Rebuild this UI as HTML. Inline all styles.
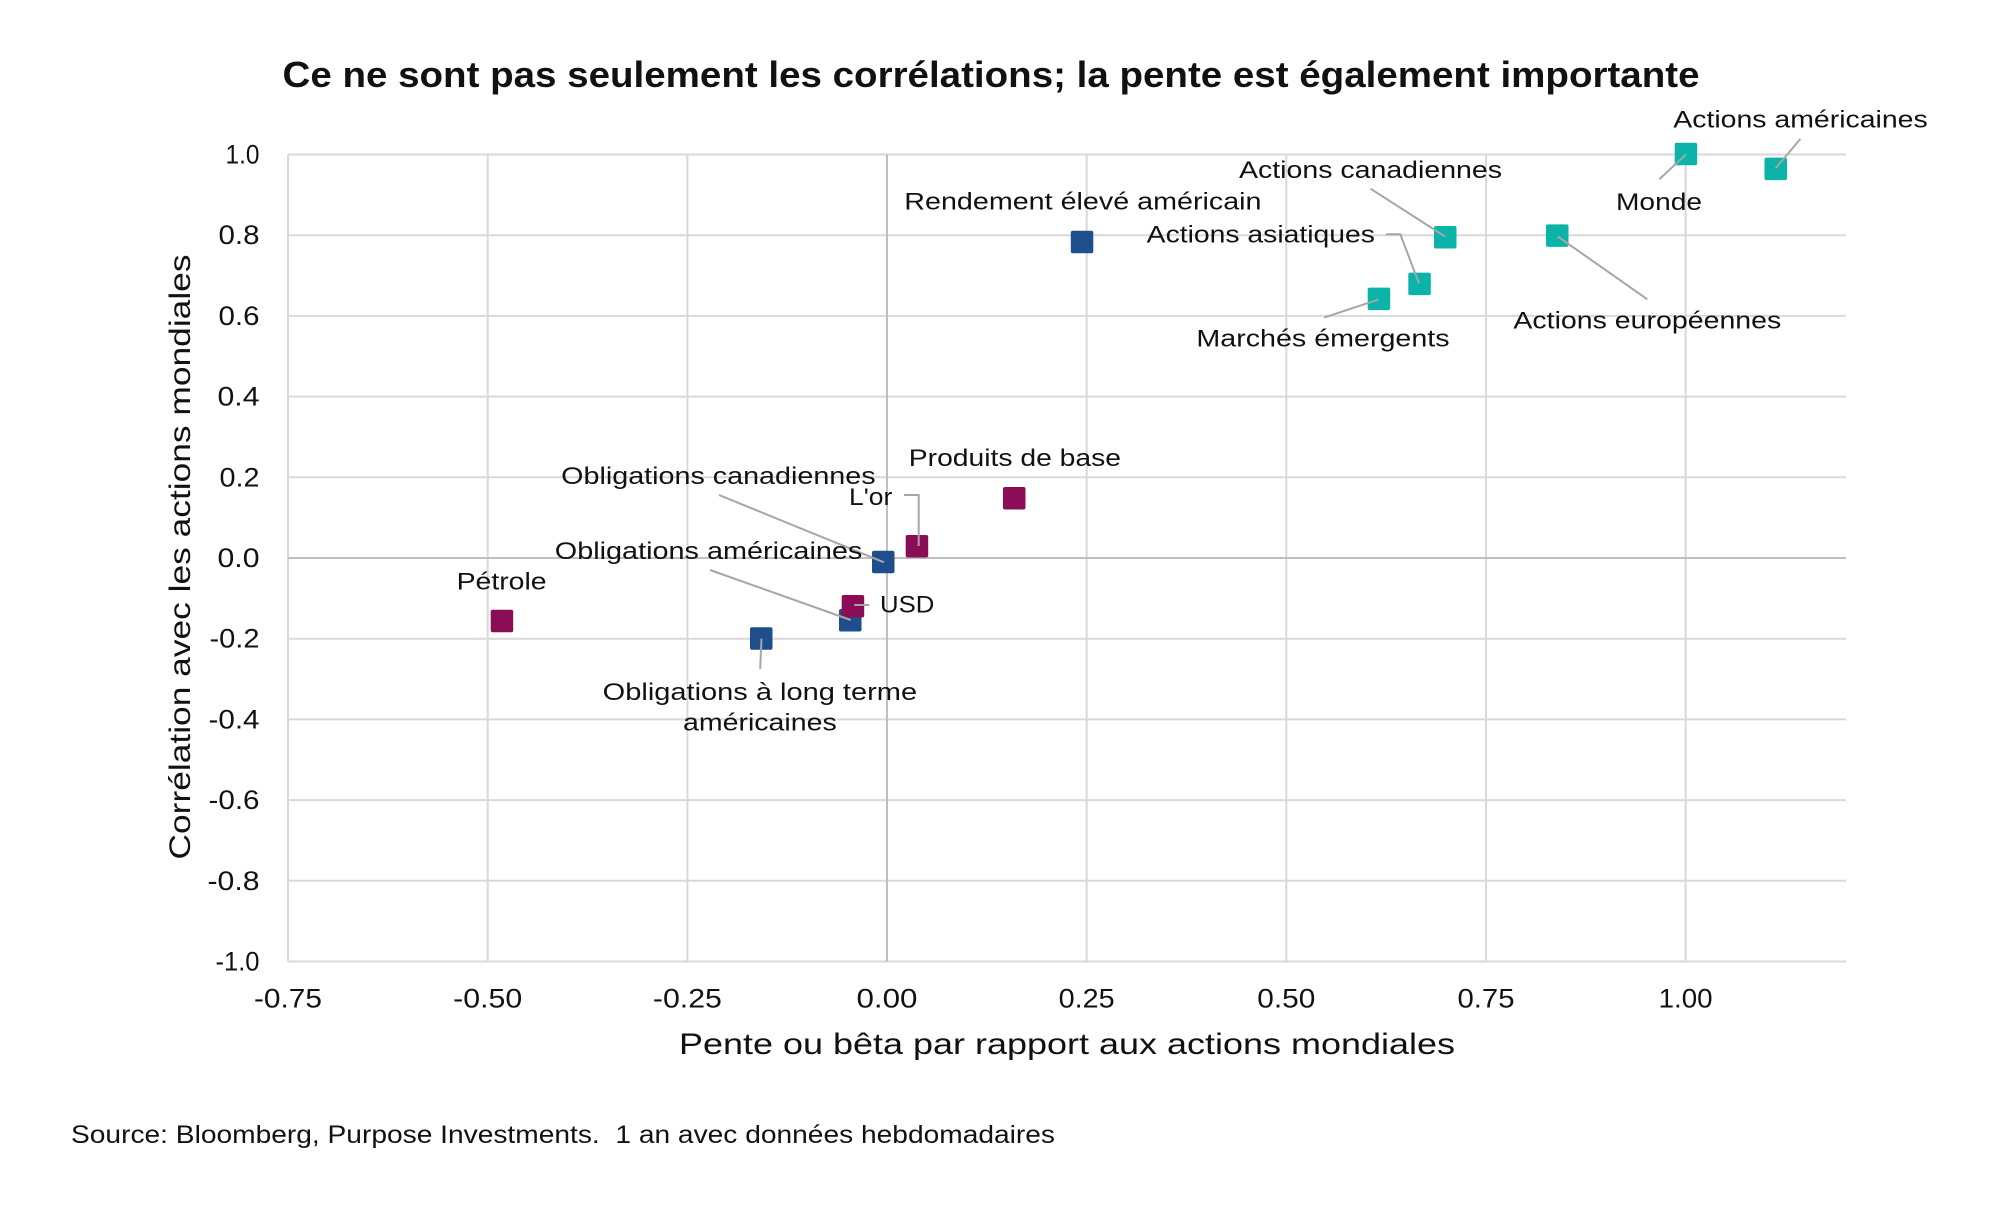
<!DOCTYPE html>
<html>
<head>
<meta charset="utf-8">
<style>
  html, body { margin: 0; padding: 0; background: #ffffff; }
  svg { display: block; }
  text { font-family: "Liberation Sans", "DejaVu Sans", sans-serif; fill: #111111; }
</style>
</head>
<body>
<svg width="2000" height="1207" viewBox="0 0 2000 1207" xmlns="http://www.w3.org/2000/svg">
  <rect x="0" y="0" width="2000" height="1207" fill="#ffffff"/>

  <!-- Title -->
  <text x="282.5" y="87" font-size="36" font-weight="bold" fill="#000" textLength="1417" lengthAdjust="spacingAndGlyphs">Ce ne sont pas seulement les corrélations; la pente est également importante</text>

  <!-- Horizontal gridlines -->
  <g stroke="#d9d9d9" stroke-width="2">
    <line x1="288" y1="154.5" x2="1846" y2="154.5"/>
    <line x1="288" y1="235.2" x2="1846" y2="235.2"/>
    <line x1="288" y1="315.9" x2="1846" y2="315.9"/>
    <line x1="288" y1="396.6" x2="1846" y2="396.6"/>
    <line x1="288" y1="477.3" x2="1846" y2="477.3"/>
    <line x1="288" y1="638.7" x2="1846" y2="638.7"/>
    <line x1="288" y1="719.4" x2="1846" y2="719.4"/>
    <line x1="288" y1="800.1" x2="1846" y2="800.1"/>
    <line x1="288" y1="880.8" x2="1846" y2="880.8"/>
    <line x1="288" y1="961.5" x2="1846" y2="961.5"/>
  </g>
  <!-- Vertical gridlines -->
  <g stroke="#d9d9d9" stroke-width="2">
    <line x1="288" y1="154.5" x2="288" y2="961.5"/>
    <line x1="487.7" y1="154.5" x2="487.7" y2="961.5"/>
    <line x1="687.4" y1="154.5" x2="687.4" y2="961.5"/>
    <line x1="1086.7" y1="154.5" x2="1086.7" y2="961.5"/>
    <line x1="1286.3" y1="154.5" x2="1286.3" y2="961.5"/>
    <line x1="1486" y1="154.5" x2="1486" y2="961.5"/>
    <line x1="1685.6" y1="154.5" x2="1685.6" y2="961.5"/>
  </g>
  <!-- Zero axes -->
  <g stroke="#bfbfbf" stroke-width="2">
    <line x1="288" y1="558" x2="1846" y2="558"/>
    <line x1="887" y1="154.5" x2="887" y2="961.5"/>
  </g>

  <!-- Y tick labels -->
  <g font-size="27" text-anchor="end">
    <text x="259.5" y="163.5" textLength="34" lengthAdjust="spacingAndGlyphs">1.0</text>
    <text x="259.5" y="244.2" textLength="41" lengthAdjust="spacingAndGlyphs">0.8</text>
    <text x="259.5" y="324.9" textLength="41" lengthAdjust="spacingAndGlyphs">0.6</text>
    <text x="259.5" y="405.6" textLength="42" lengthAdjust="spacingAndGlyphs">0.4</text>
    <text x="259.5" y="486.3" textLength="40" lengthAdjust="spacingAndGlyphs">0.2</text>
    <text x="259.5" y="567" textLength="42" lengthAdjust="spacingAndGlyphs">0.0</text>
    <text x="259.5" y="647.7" textLength="50" lengthAdjust="spacingAndGlyphs">-0.2</text>
    <text x="259.5" y="728.4" textLength="51" lengthAdjust="spacingAndGlyphs">-0.4</text>
    <text x="259.5" y="809.1" textLength="51" lengthAdjust="spacingAndGlyphs">-0.6</text>
    <text x="259.5" y="889.8" textLength="52" lengthAdjust="spacingAndGlyphs">-0.8</text>
    <text x="259.5" y="970.5" textLength="44" lengthAdjust="spacingAndGlyphs">-1.0</text>
  </g>

  <!-- X tick labels -->
  <g font-size="27" text-anchor="middle">
    <text x="288" y="1007.7" textLength="68" lengthAdjust="spacingAndGlyphs">-0.75</text>
    <text x="487.7" y="1007.7" textLength="69" lengthAdjust="spacingAndGlyphs">-0.50</text>
    <text x="687.4" y="1007.7" textLength="69" lengthAdjust="spacingAndGlyphs">-0.25</text>
    <text x="887" y="1007.7" textLength="61" lengthAdjust="spacingAndGlyphs">0.00</text>
    <text x="1086.7" y="1007.7" textLength="56" lengthAdjust="spacingAndGlyphs">0.25</text>
    <text x="1286.3" y="1007.7" textLength="58" lengthAdjust="spacingAndGlyphs">0.50</text>
    <text x="1486" y="1007.7" textLength="57" lengthAdjust="spacingAndGlyphs">0.75</text>
    <text x="1685.6" y="1007.7" textLength="54" lengthAdjust="spacingAndGlyphs">1.00</text>
  </g>

  <!-- Axis titles -->
  <text x="679" y="1054" font-size="30" textLength="776" lengthAdjust="spacingAndGlyphs">Pente ou bêta par rapport aux actions mondiales</text>
  <text transform="translate(190,557) rotate(-90)" x="0" y="0" font-size="30" text-anchor="middle" textLength="605" lengthAdjust="spacingAndGlyphs">Corrélation avec les actions mondiales</text>

  <!-- Source -->
  <text x="71" y="1143" font-size="25" textLength="984" lengthAdjust="spacingAndGlyphs">Source: Bloomberg, Purpose Investments.&#160; 1 an avec données hebdomadaires</text>

  <!-- Markers -->
  <g>
    <!-- blue -->
    <rect x="1070.8" y="230.8" width="22.5" height="22.5" rx="2" fill="#1f4e8c"/>
    <rect x="872" y="550.7" width="22.5" height="22.5" rx="2" fill="#1f4e8c"/>
    <rect x="839" y="609" width="22.5" height="22.5" rx="2" fill="#1f4e8c"/>
    <rect x="750" y="627.3" width="22.5" height="22.5" rx="2" fill="#1f4e8c"/>
    <!-- magenta -->
    <rect x="1003" y="487" width="22.5" height="22.5" rx="2" fill="#8b0c57"/>
    <rect x="905.7" y="535" width="22.5" height="22.5" rx="2" fill="#8b0c57"/>
    <rect x="841.7" y="595" width="22.5" height="22.5" rx="2" fill="#8b0c57"/>
    <rect x="490.7" y="609.7" width="22.5" height="22.5" rx="2" fill="#8b0c57"/>
    <!-- teal -->
    <rect x="1674.7" y="142.7" width="22.5" height="22.5" rx="2" fill="#0bb3a8"/>
    <rect x="1764.5" y="157.6" width="22.5" height="22.5" rx="2" fill="#0bb3a8"/>
    <rect x="1434" y="226" width="22.5" height="22.5" rx="2" fill="#0bb3a8"/>
    <rect x="1546" y="224.4" width="22.5" height="22.5" rx="2" fill="#0bb3a8"/>
    <rect x="1408.3" y="272.6" width="22.5" height="22.5" rx="2" fill="#0bb3a8"/>
    <rect x="1367.7" y="287.6" width="22.5" height="22.5" rx="2" fill="#0bb3a8"/>
  </g>

  <!-- Connector lines -->
  <g stroke="#a6a6a6" stroke-width="2" fill="none">
    <line x1="1800.4" y1="138.9" x2="1775.6" y2="168.4"/>
    <line x1="1659.3" y1="179.3" x2="1686" y2="154.3"/>
    <line x1="1370.5" y1="188.7" x2="1445" y2="236.5"/>
    <polyline points="1386,234.3 1400.3,234.3 1419,283.3"/>
    <line x1="1324" y1="317.6" x2="1378.5" y2="299.6"/>
    <line x1="1557.8" y1="236.5" x2="1647.3" y2="299.3"/>
    <line x1="719" y1="495" x2="884" y2="562.3"/>
    <polyline points="904,495 918.7,495 918.7,546"/>
    <line x1="710" y1="570" x2="850.7" y2="620"/>
    <line x1="854.3" y1="605" x2="869.3" y2="605"/>
    <line x1="760.2" y1="668.9" x2="761.5" y2="638.7"/>
  </g>

  <!-- Data labels -->
  <g font-size="24">
    <text x="1673.3" y="127.3" textLength="254.4" lengthAdjust="spacingAndGlyphs">Actions américaines</text>
    <text x="1616" y="210" textLength="86" lengthAdjust="spacingAndGlyphs">Monde</text>
    <text x="1239" y="178" textLength="263" lengthAdjust="spacingAndGlyphs">Actions canadiennes</text>
    <text x="904.3" y="209.7" textLength="357.2" lengthAdjust="spacingAndGlyphs">Rendement élevé américain</text>
    <text x="1146.7" y="242.4" textLength="228.3" lengthAdjust="spacingAndGlyphs">Actions asiatiques</text>
    <text x="1196.4" y="346.3" textLength="253.2" lengthAdjust="spacingAndGlyphs">Marchés émergents</text>
    <text x="1513.4" y="328.4" textLength="267.9" lengthAdjust="spacingAndGlyphs">Actions européennes</text>
    <text x="908.8" y="466.1" textLength="212.2" lengthAdjust="spacingAndGlyphs">Produits de base</text>
    <text x="561.2" y="484" textLength="314.4" lengthAdjust="spacingAndGlyphs">Obligations canadiennes</text>
    <text x="849" y="505" textLength="43.3" lengthAdjust="spacingAndGlyphs">L'or</text>
    <text x="554.8" y="559" textLength="307.5" lengthAdjust="spacingAndGlyphs">Obligations américaines</text>
    <text x="456.6" y="589.4" textLength="90" lengthAdjust="spacingAndGlyphs">Pétrole</text>
    <text x="880" y="612.7" textLength="54.3" lengthAdjust="spacingAndGlyphs">USD</text>
    <text x="602.7" y="700" textLength="314.4" lengthAdjust="spacingAndGlyphs">Obligations à long terme</text>
    <text x="683" y="730.7" textLength="153.7" lengthAdjust="spacingAndGlyphs">américaines</text>
  </g>
</svg>
</body>
</html>
